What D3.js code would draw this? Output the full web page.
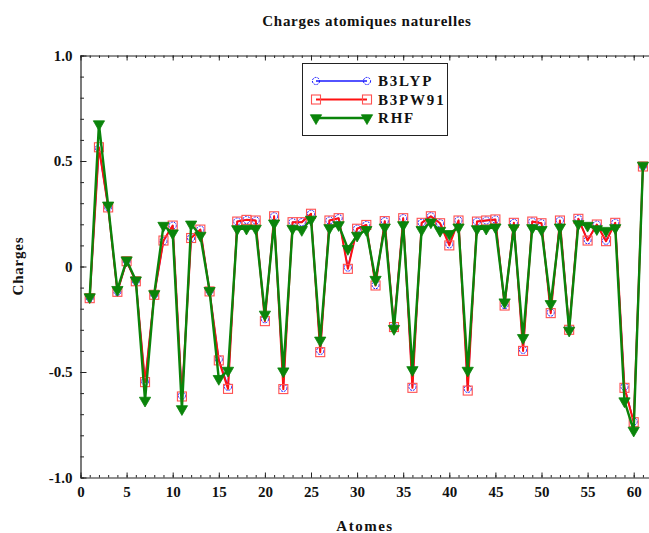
<!DOCTYPE html>
<html>
<head>
<meta charset="utf-8">
<script src="https://cdn.jsdelivr.net/npm/d3@7"></script>
<style>
  html, body { margin: 0; padding: 0; background: #fff; }
  svg { display: block; }
  text { font-family: "Liberation Serif", "Times New Roman", serif; font-weight: bold; fill: #111; }
</style>
</head>
<body>
<svg id="chart" width="649" height="533"></svg>
<script>
// Atom indices along the x axis
const atoms = [1,2,3,4,5,6,7,8,9,10,11,12,13,14,15,16,17,18,19,20,
  21,22,23,24,25,26,27,28,29,30,31,32,33,34,35,36,37,38,39,40,
  41,42,43,44,45,46,47,48,49,50,51,52,53,54,55,56,57,58,59,60,61];

// Natural atomic charges per method
const b3lyp = [-0.15,0.56,0.28,-0.12,0.025,-0.07,-0.545,-0.134,0.12,0.194,
  -0.612,0.135,0.175,-0.118,-0.44,-0.57,0.213,0.221,0.218,-0.25,
  0.238,-0.575,0.21,0.21,0.25,-0.40,0.218,0.229,-0.005,0.179,
  0.197,-0.088,0.215,-0.285,0.229,-0.57,0.207,0.238,0.205,0.105,
  0.218,-0.58,0.213,0.218,0.223,-0.183,0.207,-0.395,0.213,0.205,
  -0.218,0.218,-0.298,0.226,0.125,0.199,0.122,0.207,-0.57,-0.735,0.474];

const b3pw91 = [-0.15,0.565,0.28,-0.12,0.025,-0.07,-0.548,-0.134,0.123,0.194,
  -0.616,0.135,0.175,-0.118,-0.445,-0.58,0.213,0.221,0.218,-0.259,
  0.238,-0.581,0.21,0.21,0.25,-0.406,0.218,0.229,-0.011,0.179,
  0.197,-0.09,0.215,-0.287,0.229,-0.575,0.207,0.238,0.205,0.10,
  0.218,-0.588,0.213,0.218,0.223,-0.185,0.207,-0.40,0.213,0.205,
  -0.221,0.218,-0.30,0.226,0.123,0.199,0.12,0.207,-0.575,-0.738,0.474];

const rhf = [-0.145,0.675,0.29,-0.11,0.03,-0.065,-0.635,-0.13,0.194,0.158,
  -0.675,0.2,0.147,-0.115,-0.532,-0.493,0.178,0.18,0.18,-0.227,
  0.205,-0.496,0.18,0.174,0.223,-0.35,0.183,0.197,0.084,0.147,
  0.174,-0.062,0.186,-0.295,0.197,-0.49,0.174,0.21,0.17,0.155,
  0.186,-0.493,0.178,0.18,0.186,-0.169,0.183,-0.338,0.183,0.174,
  -0.177,0.186,-0.303,0.202,0.194,0.178,0.17,0.183,-0.638,-0.777,0.479];

const seriesNames = ["B3LYP", "B3PW91", "RHF"];
const xMajorTicks = [0,5,10,15,20,25,30,35,40,45,50,55,60];
const yMajorTicks = [-1.0,-0.5,0,0.5,1.0];
const yTickLabels = ["-1.0","-0.5","0","0.5","1.0"];

const svg = d3.select("#chart");
const margin = { left: 80.5, top: 55.5, bottom: 477.5 };

const x = d3.scaleLinear().domain([0, 62]).range([margin.left, margin.left + 62 * 9.22]);
const y = d3.scaleLinear().domain([-1, 1]).range([margin.bottom, margin.top]);

const styles = [
  { color: "#1a1aff", width: 1.4, marker: "circle" },
  { color: "#ff1010", width: 2.0, marker: "square" },
  { color: "#0a840a", width: 2.4, marker: "triangle" }
];
const seriesData = [b3lyp, b3pw91, rhf];

const minorX = d3.range(0, 63, 1);
const minorY = d3.range(-10, 11, 1).map(v => v / 10);

function styleLabels(g) {
  g.selectAll("text").attr("font-size", 15).attr("font-family", "Liberation Serif, serif")
    .attr("font-weight", "bold").attr("fill", "#111");
}

// bottom
svg.append("g")
  .attr("transform", `translate(0,${margin.bottom})`)
  .call(d3.axisBottom(x).tickValues(minorX).tickSize(-2.5).tickSizeOuter(0).tickFormat(""))
  .call(g => g.select(".domain").attr("stroke", "#222").attr("stroke-width", 1.2));
svg.append("g")
  .attr("transform", `translate(0,${margin.bottom})`)
  .call(d3.axisBottom(x).tickValues(xMajorTicks).tickSize(-5).tickSizeOuter(0).tickPadding(9).tickFormat(d3.format("d")))
  .call(g => g.select(".domain").remove())
  .call(styleLabels);

// top
svg.append("g")
  .attr("transform", `translate(0,${margin.top})`)
  .call(d3.axisTop(x).tickValues(minorX).tickSize(-2.5).tickSizeOuter(0).tickFormat(""))
  .call(g => g.select(".domain").attr("stroke", "#222").attr("stroke-width", 1.2));
svg.append("g")
  .attr("transform", `translate(0,${margin.top})`)
  .call(d3.axisTop(x).tickValues(xMajorTicks).tickSize(-5).tickSizeOuter(0).tickFormat(""))
  .call(g => g.select(".domain").remove());

// left
svg.append("g")
  .attr("transform", `translate(${margin.left},0)`)
  .call(d3.axisLeft(y).tickValues(minorY).tickSize(-3.5).tickSizeOuter(0).tickFormat(""))
  .call(g => g.select(".domain").attr("stroke", "#222").attr("stroke-width", 1.2));
svg.append("g")
  .attr("transform", `translate(${margin.left},0)`)
  .call(d3.axisLeft(y).tickValues(yMajorTicks).tickSize(-6).tickSizeOuter(0).tickPadding(8)
    .tickFormat((d, i) => yTickLabels[i]))
  .call(g => g.select(".domain").remove())
  .call(styleLabels);

svg.selectAll(".tick line").attr("stroke", "#222");

// Series lines and markers
const line = d3.line().x((d, i) => x(atoms[i])).y(d => y(d));

function drawMarker(g, type, color, cx, cy) {
  if (type === "circle") {
    g.append("circle").attr("cx", cx).attr("cy", cy).attr("r", 3.6)
      .attr("fill", "none").attr("stroke", color).attr("stroke-width", 1).attr("stroke-dasharray", "2,1");
  } else if (type === "square") {
    g.append("rect").attr("x", cx - 4.5).attr("y", cy - 4.5).attr("width", 9).attr("height", 9)
      .attr("fill", "none").attr("stroke", "#ff5050").attr("stroke-width", 1.1);
  } else {
    const s = d3.symbol().type(d3.symbolTriangle).size(55)();
    g.append("path").attr("d", s)
      .attr("transform", `translate(${cx},${cy}) rotate(180)`)
      .attr("fill", color).attr("stroke", color).attr("stroke-width", 0.8);
  }
}

seriesData.forEach((vals, k) => {
  const st = styles[k];
  const g = svg.append("g").attr("class", "series");
  g.append("path").datum(vals).attr("d", line)
    .attr("fill", "none").attr("stroke", st.color).attr("stroke-width", st.width)
    .attr("stroke-linejoin", "round");
  vals.forEach((v, i) => drawMarker(g, st.marker, st.color, x(atoms[i]), y(v)));
});

// Legend
const lg = svg.append("g");
lg.append("rect").attr("x", 302.5).attr("y", 63.5).attr("width", 145).attr("height", 72)
  .attr("fill", "#fff").attr("stroke", "#222").attr("stroke-width", 1);
seriesNames.forEach((name, k) => {
  const st = styles[k];
  const ly = 81 + k * 18.5;
  lg.append("line").attr("x1", 316).attr("x2", 367).attr("y1", ly).attr("y2", ly)
    .attr("stroke", st.color).attr("stroke-width", st.width);
  drawMarker(lg, st.marker, st.color, 316, ly);
  drawMarker(lg, st.marker, st.color, 367, ly);
  lg.append("text").attr("x", 378).attr("y", ly + 5).attr("font-size", 15)
    .attr("letter-spacing", 1.8).text(name);
});

// Titles
svg.append("text").attr("x", 367).attr("y", 26).attr("text-anchor", "middle")
  .attr("font-size", 15).attr("letter-spacing", 0.7).text("Charges atomiques naturelles");
svg.append("text").attr("x", 365).attr("y", 531).attr("text-anchor", "middle")
  .attr("font-size", 15).attr("letter-spacing", 1.5).text("Atomes");
svg.append("text").attr("transform", "translate(23,266) rotate(-90)").attr("text-anchor", "middle")
  .attr("font-size", 15).attr("letter-spacing", 0.8).text("Charges");
</script>
</body>
</html>
